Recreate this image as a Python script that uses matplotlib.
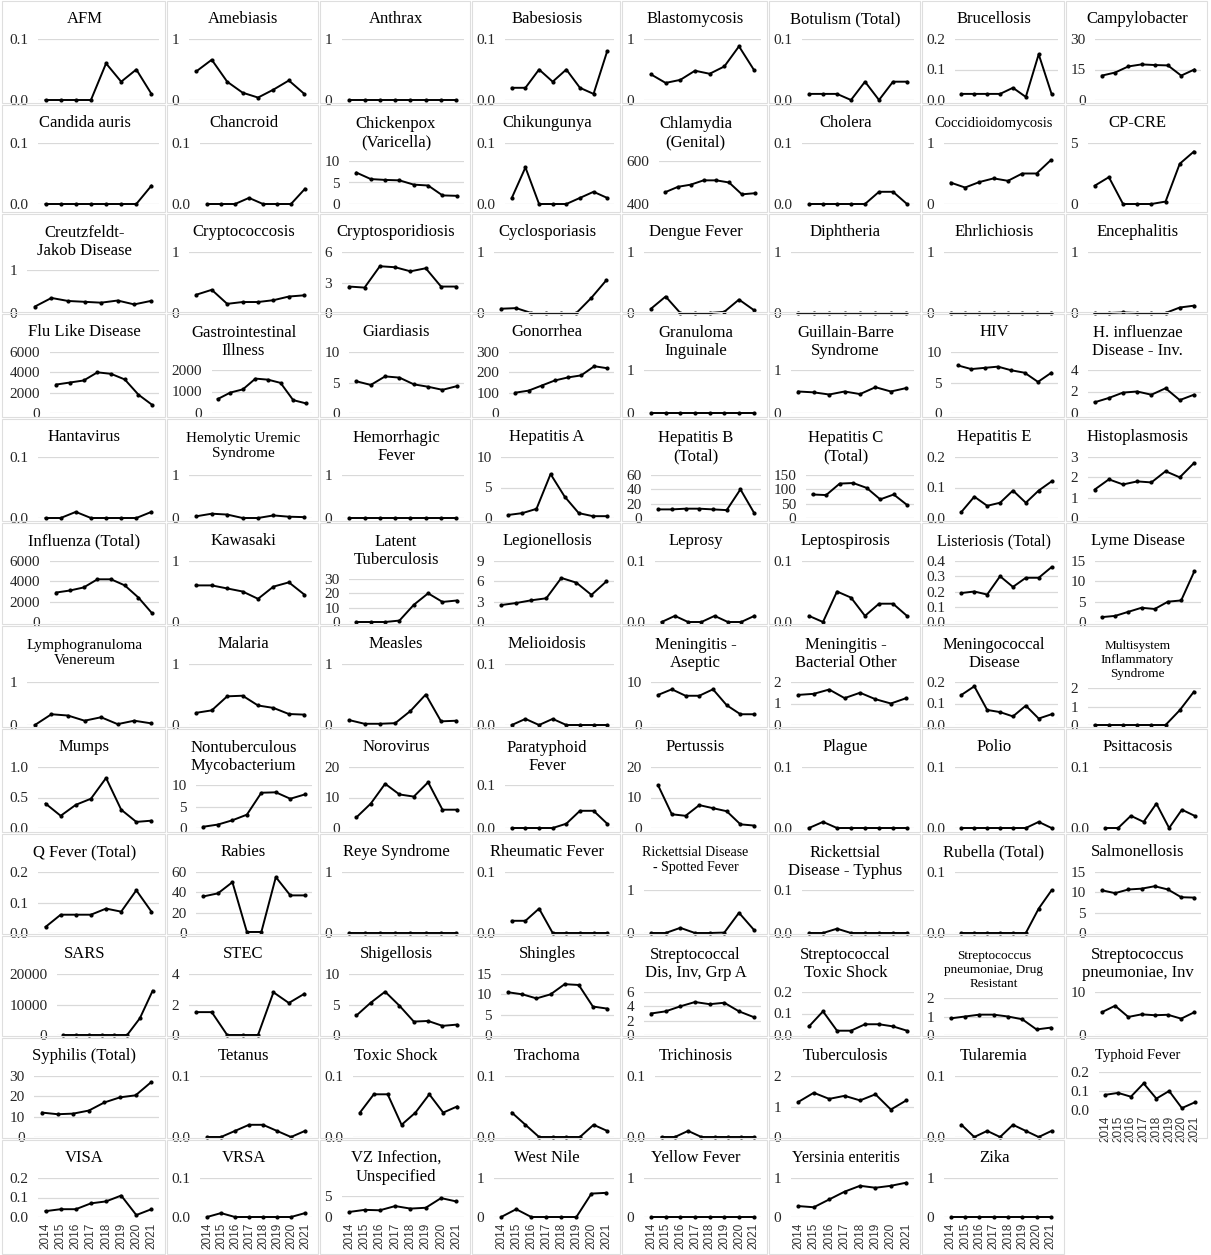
import matplotlib
matplotlib.use("Agg")
import matplotlib.pyplot as plt
from matplotlib.font_manager import FontProperties
from matplotlib.patches import Rectangle

# Incidence rate per 100,000 by year, one small line chart per condition
YEARS = ["2014", "2015", "2016", "2017", "2018", "2019", "2020", "2021"]

DISEASES = [
    "AFM", "Amebiasis", "Anthrax", "Babesiosis", "Blastomycosis",
    "Botulism (Total)", "Brucellosis", "Campylobacter",
    "Candida auris", "Chancroid", "Chickenpox\n(Varicella)", "Chikungunya",
    "Chlamydia\n(Genital)", "Cholera", "Coccidioidomycosis", "CP-CRE",
    "Creutzfeldt-\nJakob Disease", "Cryptococcosis", "Cryptosporidiosis",
    "Cyclosporiasis", "Dengue Fever", "Diphtheria", "Ehrlichiosis", "Encephalitis",
    "Flu Like Disease", "Gastrointestinal\nIllness", "Giardiasis", "Gonorrhea",
    "Granuloma\nInguinale", "Guillain-Barre\nSyndrome", "HIV",
    "H. influenzae\nDisease - Inv.",
    "Hantavirus", "Hemolytic Uremic\nSyndrome", "Hemorrhagic\nFever", "Hepatitis A",
    "Hepatitis B\n(Total)", "Hepatitis C\n(Total)", "Hepatitis E", "Histoplasmosis",
    "Influenza (Total)", "Kawasaki", "Latent\nTuberculosis", "Legionellosis",
    "Leprosy", "Leptospirosis", "Listeriosis (Total)", "Lyme Disease",
    "Lymphogranuloma\nVenereum", "Malaria", "Measles", "Melioidosis",
    "Meningitis -\nAseptic", "Meningitis -\nBacterial Other", "Meningococcal\nDisease",
    "Multisystem\nInflammatory\nSyndrome",
    "Mumps", "Nontuberculous\nMycobacterium", "Norovirus", "Paratyphoid\nFever",
    "Pertussis", "Plague", "Polio", "Psittacosis",
    "Q Fever (Total)", "Rabies", "Reye Syndrome", "Rheumatic Fever",
    "Rickettsial Disease\n- Spotted Fever", "Rickettsial\nDisease - Typhus",
    "Rubella (Total)", "Salmonellosis",
    "SARS", "STEC", "Shigellosis", "Shingles", "Streptococcal\nDis, Inv, Grp A",
    "Streptococcal\nToxic Shock", "Streptococcus\npneumoniae, Drug\nResistant",
    "Streptococcus\npneumoniae, Inv",
    "Syphilis (Total)", "Tetanus", "Toxic Shock", "Trachoma", "Trichinosis",
    "Tuberculosis", "Tularemia", "Typhoid Fever",
    "VISA", "VRSA", "VZ Infection,\nUnspecified", "West Nile", "Yellow Fever",
    "Yersinia enteritis", "Zika",
]

ZERO = [0, 0, 0, 0, 0, 0, 0, 0]

RATES = [
    # AFM .. Campylobacter
    [0, 0, 0, 0, 0.06, 0.03, 0.05, 0.01],
    [0.47, 0.66, 0.3, 0.12, 0.04, 0.17, 0.32, 0.1],
    ZERO,
    [0.02, 0.02, 0.05, 0.03, 0.05, 0.02, 0.01, 0.08],
    [0.42, 0.28, 0.33, 0.48, 0.43, 0.55, 0.88, 0.5],
    [0.01, 0.01, 0.01, 0, 0.03, 0, 0.03, 0.03],
    [0.02, 0.02, 0.02, 0.02, 0.04, 0.01, 0.15, 0.02],
    [12, 13.5, 16.5, 17.5, 17.2, 17, 12, 15],
    # Candida auris .. CP-CRE
    [0, 0, 0, 0, 0, 0, 0, 0.03],
    [0, 0, 0, 0.01, 0, 0, 0, 0.025],
    [7.3, 5.8, 5.6, 5.5, 4.5, 4.3, 2.0, 1.9],
    [0.01, 0.06, 0, 0, 0, 0.01, 0.02, 0.01],
    [455, 480, 490, 510, 510, 500, 445, 450],
    [0, 0, 0, 0, 0, 0.02, 0.02, 0],
    [0.35, 0.27, 0.36, 0.42, 0.38, 0.5, 0.5, 0.72],
    [1.5, 2.2, 0, 0, 0, 0.2, 3.3, 4.3],
    # Creutzfeldt-Jakob .. Encephalitis
    [0.15, 0.35, 0.28, 0.26, 0.24, 0.29, 0.2, 0.28],
    [0.3, 0.38, 0.15, 0.18, 0.18, 0.21, 0.27, 0.29],
    [2.6, 2.5, 4.6, 4.5, 4.1, 4.4, 2.6, 2.6],
    [0.07, 0.08, 0, 0, 0, 0, 0.25, 0.54],
    [0.07, 0.27, 0, 0, 0, 0.02, 0.22, 0.05],
    ZERO,
    ZERO,
    [0, 0, 0.01, 0, 0, 0, 0.09, 0.12],
    # Flu Like Disease .. H. influenzae
    [2800, 3000, 3200, 4000, 3850, 3300, 1800, 800],
    [650, 950, 1100, 1600, 1550, 1400, 600, 450],
    [5.2, 4.6, 6.0, 5.8, 4.7, 4.3, 3.8, 4.4],
    [100, 110, 135, 160, 175, 185, 230, 220],
    ZERO,
    [0.5, 0.48, 0.43, 0.5, 0.44, 0.6, 0.5, 0.58],
    [7.8, 7.2, 7.4, 7.6, 7.0, 6.6, 5.1, 6.6],
    [1.0, 1.4, 1.9, 2.0, 1.7, 2.3, 1.2, 1.7],
    # Hantavirus .. Histoplasmosis
    [0, 0, 0.01, 0, 0, 0, 0, 0.01],
    [0.04, 0.1, 0.08, 0, 0, 0.06, 0.03, 0.02],
    ZERO,
    [0.5, 0.8, 1.5, 7.2, 3.5, 0.8, 0.3, 0.3],
    [12, 12, 13, 13, 12, 11, 40, 7],
    [82, 80, 120, 122, 105, 65, 82, 45],
    [0.02, 0.07, 0.04, 0.05, 0.09, 0.05, 0.09, 0.12],
    [1.4, 1.9, 1.65, 1.8, 1.75, 2.3, 2.0, 2.7],
    # Influenza .. Lyme Disease
    [2900, 3100, 3400, 4200, 4200, 3600, 2400, 850],
    [0.6, 0.6, 0.55, 0.5, 0.38, 0.58, 0.65, 0.45],
    [0, 0, 0, 1, 12, 20, 14, 15],
    [2.5, 2.8, 3.2, 3.5, 6.5, 5.8, 4.0, 6.0],
    [0, 0.01, 0, 0, 0.01, 0, 0, 0.01],
    [0.01, 0, 0.05, 0.04, 0.01, 0.03, 0.03, 0.01],
    [0.19, 0.2, 0.18, 0.3, 0.23, 0.29, 0.29, 0.36],
    [1.2, 1.5, 2.5, 3.5, 3.2, 5.0, 5.3, 12.5],
    # Lymphogranuloma Venereum .. Multisystem Inflammatory Syndrome
    [0, 0.25, 0.22, 0.1, 0.18, 0.02, 0.1, 0.04],
    [0.2, 0.24, 0.47, 0.48, 0.32, 0.28, 0.18, 0.17],
    [0.08, 0.02, 0.02, 0.03, 0.23, 0.5, 0.06, 0.07],
    [0, 0.01, 0, 0.01, 0, 0, 0, 0],
    [7.0, 8.3, 6.8, 6.8, 8.3, 4.6, 2.5, 2.5],
    [1.4, 1.45, 1.65, 1.25, 1.5, 1.2, 1.0, 1.25],
    [0.14, 0.18, 0.07, 0.06, 0.04, 0.09, 0.03, 0.05],
    [0, 0, 0, 0, 0, 0, 0.8, 1.8],
    # Mumps .. Psittacosis
    [0.4, 0.2, 0.38, 0.48, 0.82, 0.3, 0.1, 0.12],
    [0.3, 0.8, 1.8, 3.1, 8.2, 8.3, 6.8, 7.8],
    [3.5, 8.0, 14.5, 11.0, 10.3, 15.0, 6.0, 6.0],
    [0, 0, 0, 0, 0.01, 0.04, 0.04, 0.01],
    [14.0, 4.5, 4.0, 7.5, 6.5, 5.5, 1.2, 0.8],
    [0, 0.01, 0, 0, 0, 0, 0, 0],
    [0, 0, 0, 0, 0, 0, 0.01, 0],
    [0, 0, 0.02, 0.01, 0.04, 0, 0.03, 0.02],
    # Q Fever .. Salmonellosis
    [0.02, 0.06, 0.06, 0.06, 0.08, 0.07, 0.14, 0.07],
    [36, 39, 50, 1, 1, 55, 37, 37],
    ZERO,
    [0.02, 0.02, 0.04, 0, 0, 0, 0, 0],
    [0, 0, 0.12, 0, 0, 0.01, 0.47, 0.08],
    [0, 0, 0.01, 0, 0, 0, 0, 0],
    [0, 0, 0, 0, 0, 0, 0.04, 0.07],
    [10.5, 9.8, 10.7, 10.9, 11.5, 10.7, 8.8, 8.7],
    # SARS .. Streptococcus pneumoniae, Inv
    [0, 0, 0, 0, 0, 0, 5500, 14500],
    [1.5, 1.5, 0, 0, 0, 2.8, 2.1, 2.7],
    [3.2, 5.3, 7.1, 4.8, 2.2, 2.3, 1.5, 1.7],
    [10.5, 10.0, 9.0, 10.0, 12.5, 12.3, 7.0, 6.5],
    [3.0, 3.3, 4.0, 4.6, 4.3, 4.5, 3.3, 2.5],
    [0.04, 0.11, 0.02, 0.02, 0.05, 0.05, 0.04, 0.02],
    [0.9, 1.0, 1.1, 1.1, 1.0, 0.85, 0.3, 0.4],
    [5.3, 6.8, 4.2, 4.8, 4.6, 4.7, 3.8, 5.3],
    # Syphilis .. Typhoid Fever
    [12.0, 11.2, 11.5, 13.0, 17.0, 19.5, 20.5, 27.0],
    [0, 0, 0.01, 0.02, 0.02, 0.01, 0, 0.01],
    [0.04, 0.07, 0.07, 0.02, 0.04, 0.07, 0.04, 0.05],
    [0.04, 0.02, 0, 0, 0, 0, 0.02, 0.01],
    [0, 0, 0.01, 0, 0, 0, 0, 0],
    [1.15, 1.45, 1.25, 1.35, 1.2, 1.4, 0.9, 1.2],
    [0.02, 0, 0.01, 0, 0.02, 0.01, 0, 0.01],
    [0.08, 0.09, 0.07, 0.14, 0.06, 0.1, 0.01, 0.04],
    # VISA .. Zika
    [0.03, 0.04, 0.04, 0.07, 0.08, 0.11, 0.01, 0.04],
    [0, 0.01, 0, 0, 0, 0, 0, 0.01],
    [1.2, 1.7, 1.6, 2.6, 2.0, 2.2, 4.5, 3.7],
    [0, 0.2, 0, 0, 0, 0, 0.6, 0.62],
    ZERO,
    [0.28, 0.25, 0.45, 0.65, 0.8, 0.75, 0.8, 0.88],
    ZERO,
]

# y-axis tick values for each panel
T01 = [0, 0.1]
T02 = [0, 0.1, 0.2]
T1 = [0, 1]
Y_TICKS = [
    T01, T1, T1, T01, T1, T01, T02, [0, 15, 30],
    T01, T01, [0, 5, 10], T01, [400, 600], T01, T1, [0, 5],
    T1, T1, [0, 3, 6], T1, T1, T1, T1, T1,
    [0, 2000, 4000, 6000], [0, 1000, 2000], [0, 5, 10], [0, 100, 200, 300],
    T1, T1, [0, 5, 10], [0, 2, 4],
    T01, T1, T1, [0, 5, 10], [0, 20, 40, 60], [0, 50, 100, 150], T02, [0, 1, 2, 3],
    [0, 2000, 4000, 6000], T1, [0, 10, 20, 30], [0, 3, 6, 9], T01, T01,
    [0, 0.1, 0.2, 0.3, 0.4], [0, 5, 10, 15],
    T1, T1, T1, T01, [0, 10], [0, 1, 2], T02, [0, 1, 2],
    [0, 0.5, 1.0], [0, 5, 10], [0, 10, 20], T01, [0, 10, 20], T01, T01, T01,
    T02, [0, 20, 40, 60], T1, T01, T1, T01, T01, [0, 5, 10, 15],
    [0, 10000, 20000], [0, 2, 4], [0, 5, 10], [0, 5, 10, 15], [0, 2, 4, 6],
    T02, [0, 1, 2], [0, 10],
    [0, 10, 20, 30], T01, T01, T01, T01, [0, 1, 2], T01, T02,
    T02, T01, [0, 5], T1, T1, T1, T1,
]

# smaller title sizes where the name is long
TITLE_SIZES = {
    "Coccidioidomycosis": 10.5,
    "Hemolytic Uremic\nSyndrome": 11,
    "Listeriosis (Total)": 11.5,
    "Lymphogranuloma\nVenereum": 11,
    "Multisystem\nInflammatory\nSyndrome": 9.5,
    "Rickettsial Disease\n- Spotted Fever": 10,
    "Streptococcus\npneumoniae, Drug\nResistant": 9.5,
    "Typhoid Fever": 10.5,
    "Yersinia enteritis": 11.5,
}

W, H = 1211, 1255
COL_EDGES = [2, 167, 320, 472, 622, 769, 922, 1066, 1209]
ROW_TOPS = [0, 104, 213, 313, 418, 522, 625, 728, 833, 935, 1037, 1139]
GRID = "#d9d9d9"
BORDER = "#dedede"
SERIF = "Liberation Serif"

fig = plt.figure(figsize=(W / 100, H / 100), dpi=100)
renderer = fig.canvas.get_renderer()
tick_font = FontProperties(family=SERIF, size=11)


def label_text(ticks):
    decimals = 1 if any(t != int(t) for t in ticks) else 0
    return [f"{t:.{decimals}f}" for t in ticks]


n_panels = len(DISEASES)
for k, (name, vals, ticks) in enumerate(zip(DISEASES, RATES, Y_TICKS)):
    row, col = divmod(k, 8)
    x0, x1 = COL_EDGES[col], COL_EDGES[col + 1]
    top = ROW_TOPS[row]
    bottom = ROW_TOPS[row + 1] - 1 if row + 1 < len(ROW_TOPS) else H - 1
    # a panel shows years when nothing sits below it
    with_years = k + 8 >= n_panels

    fig.add_artist(Rectangle((x0 / W, 1 - bottom / H), (x1 - x0 - 2) / W,
                             (bottom - top - 1) / H, transform=fig.transFigure,
                             fill=False, ec=BORDER, lw=0.8))

    n_lines = name.count("\n") + 1
    fs = TITLE_SIZES.get(name, 12)
    step = fs * 1.389 * 1.2
    title_y = top + 19 + (n_lines - 1) * step / 2
    fig.text((x0 + x1) / 2 / W, 1 - title_y / H, name, ha="center", va="center",
             fontsize=fs, family=SERIF, linespacing=1.2)

    plot_top = top + {1: 39, 2: 57, 3: 63}[n_lines]
    plot_bottom = top + 100
    if with_years:
        if row == len(ROW_TOPS) - 1:
            plot_bottom = top + 78
        else:
            plot_top, plot_bottom = top + 35, top + 73

    labels = label_text(ticks)
    label_w = max(renderer.get_text_width_height_descent(s, tick_font, ismath=False)[0]
                  for s in labels)
    plot_left = x0 + (10 if col == 0 else 7) + label_w + 7
    plot_right = x1 - 8

    ax = fig.add_axes([plot_left / W, 1 - plot_bottom / H,
                       (plot_right - plot_left) / W, (plot_bottom - plot_top) / H])
    ax.patch.set_visible(False)
    for side in ax.spines.values():
        side.set_visible(False)

    ax.set_xlim(-0.5, len(YEARS) - 0.5)
    ax.set_ylim(ticks[0], ticks[-1])
    ax.set_yticks(ticks)
    ax.set_yticklabels(labels, fontproperties=tick_font, color="#262626")
    ax.tick_params(axis="y", length=0, pad=7)
    ax.grid(axis="y", color=GRID, lw=0.9)
    ax.set_axisbelow(True)

    if with_years:
        ax.set_xticks(range(len(YEARS)))
        ax.set_xticklabels(YEARS, rotation=90, fontsize=8.5,
                           family="Liberation Sans", color="#333333")
        ax.tick_params(axis="x", length=0, pad=4)
    else:
        ax.set_xticks([])

    ax.plot(range(len(YEARS)), vals, color="black", lw=1.4, marker="o",
            ms=2.0, clip_on=False, zorder=3)

fig.savefig("out.png", dpi=100, facecolor="white")
